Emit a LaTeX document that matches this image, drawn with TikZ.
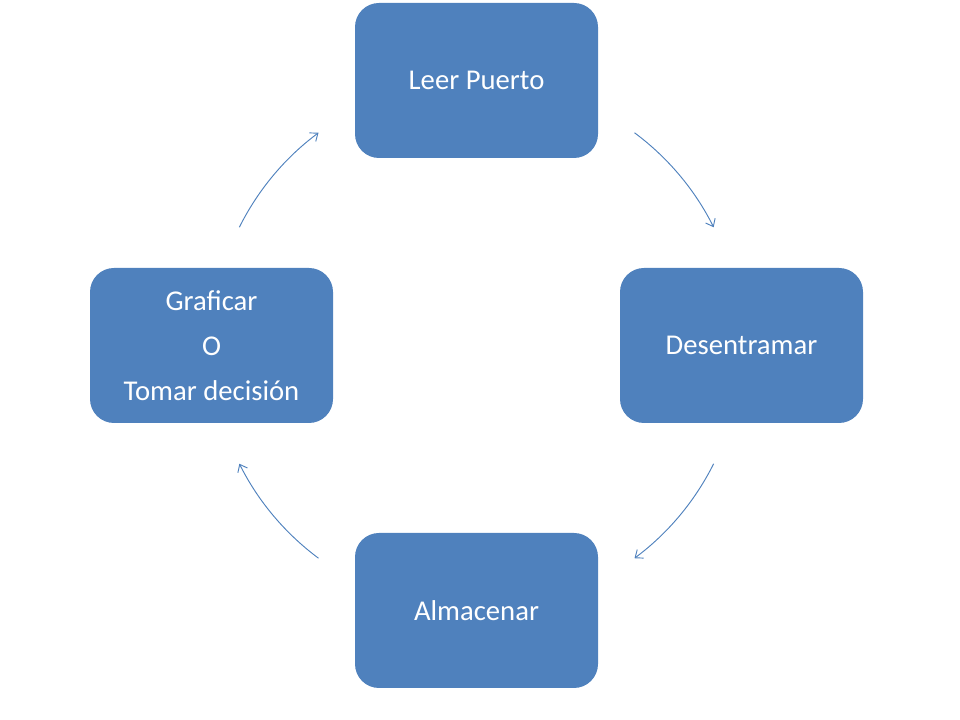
\documentclass[tikz,border=0pt]{standalone}
\usepackage{fontspec}
\setmainfont{Carlito}
\usepackage{xcolor}
\definecolor{boxblue}{HTML}{4F81BD}
\usetikzlibrary{arrows.meta}
\tikzset{
	stage/.style={rectangle, rounded corners=18pt, fill=boxblue, text=white,
		minimum width=182.25pt, minimum height=116.25pt, align=center,
		font=\fontsize{21.5}{33.75}\selectfont},
	flow/.style={boxblue, line width=0.7pt, -{Straight Barb[length=5pt, width=8pt]}}
}
\newcommand{\R}{265}
\begin{document}
\begin{tikzpicture}[x=0.75pt, y=0.75pt]
	\useasboundingbox (0,0) rectangle (960,720);

	\coordinate (C) at (476.5,374.5);

	\node[stage] (leer) at (476.5,639.5) {Leer Puerto};
	\node[stage] (desent) at (741.5,374.5) {Desentramar};
	\node[stage] (almac) at (476.5,109.5) {Almacenar};
	\node[stage] (graf) at (211.5,374.5) {Graficar\\O\\Tomar decisión};

	% arrow ends on the circle round C
	\coordinate (a1) at ([shift={(53.4:\R)}]C);
	\coordinate (a2) at ([shift={(-26.5:\R)}]C);
	\coordinate (a3) at ([shift={(-126.6:\R)}]C);
	\coordinate (a4) at ([shift={(153.5:\R)}]C);

	\draw[flow] (a1) arc[start angle=53.4, end angle=26.5, radius=\R];
	\draw[flow] (a2) arc[start angle=-26.5, end angle=-53.4, radius=\R];
	\draw[flow] (a3) arc[start angle=-126.6, end angle=-153.5, radius=\R];
	\draw[flow] (a4) arc[start angle=153.5, end angle=126.6, radius=\R];

\end{tikzpicture}
\end{document}
